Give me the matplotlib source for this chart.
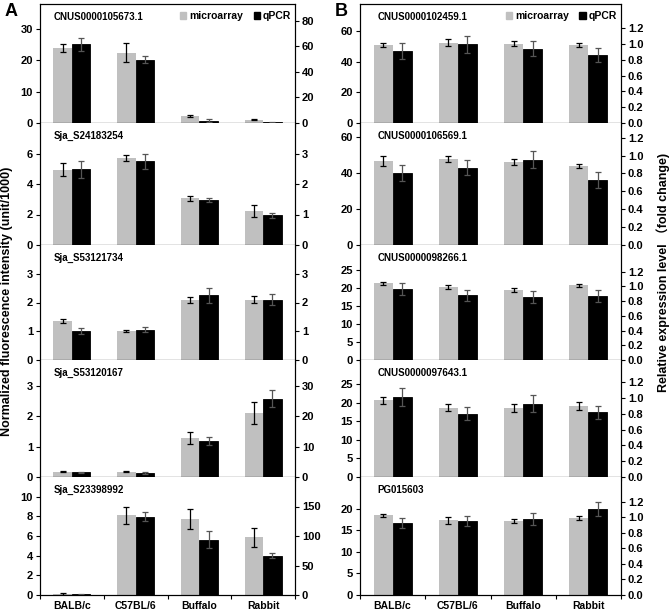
import matplotlib
matplotlib.use("Agg")
import matplotlib.pyplot as plt
import numpy as np
from matplotlib.patches import Patch

plt.rcParams['font.family'] = ['Liberation Sans', 'Noto Sans CJK SC']
plt.rcParams['font.weight'] = 'bold'

groups = ['BALB/c', 'C57BL/6', 'Buffalo', 'Rabbit']

# panel A
genes_a = ['CNUS0000105673.1', 'Sja_S24183254', 'Sja_S53121734', 'Sja_S53120167', 'Sja_S23398992']
micro_a = [[23.9, 22.5, 2.15, 1.07],
           [4.95, 5.7, 3.05, 2.25],
           [1.35, 1.02, 2.08, 2.1],
           [0.18, 0.17, 1.28, 2.1],
           [0.1, 8.1, 7.7, 5.85]]
micro_a_err = [[1.2, 3.0, 0.3, 0.2],
               [0.4, 0.2, 0.15, 0.4],
               [0.06, 0.04, 0.1, 0.12],
               [0.03, 0.02, 0.2, 0.37],
               [0.08, 0.85, 1.0, 1.0]]
qpcr_a = [[61.5, 49.5, 1.8, 0.4],
          [2.48, 2.75, 1.47, 0.97],
          [1.0, 1.05, 2.25, 2.1],
          [1.5, 1.2, 11.9, 25.7],
          [1.0, 132.5, 94.0, 66.7]]
qpcr_a_err = [[5.0, 2.5, 1.0, 0.3],
              [0.27, 0.25, 0.07, 0.07],
              [0.1, 0.09, 0.25, 0.2],
              [0.3, 0.3, 1.4, 2.8],
              [0.5, 7.5, 15.0, 4.5]]
left_lim_a = [38, 8, 4, 3.85, 12]
right_lim_a = [93, 4, 4, 38.5, 200]
left_ticks_a = [[0, 10, 20, 30], [0, 2, 4, 6], [0, 1, 2, 3], [0, 1, 2, 3], [0, 2, 4, 6, 8, 10]]
right_ticks_a = [[0, 20, 40, 60, 80], [0, 1, 2, 3], [0, 1, 2, 3], [0, 10, 20, 30], [0, 50, 100, 150]]

# panel B
genes_b = ['CNUS0000102459.1', 'CNUS0000106569.1', 'CNUS0000098266.1', 'CNUS0000097643.1', 'PG015603']
micro_b = [[51.2, 52.7, 52.1, 51.2],
           [46.5, 47.5, 45.8, 43.8],
           [21.4, 20.4, 19.5, 20.8],
           [20.7, 18.75, 18.75, 19.1],
           [18.4, 17.3, 17.1, 17.8]]
micro_b_err = [[1.4, 2.2, 1.6, 1.4],
               [2.8, 1.6, 1.6, 1.2],
               [0.5, 0.5, 0.5, 0.5],
               [1.0, 0.95, 1.1, 1.1],
               [0.4, 0.85, 0.54, 0.46]]
qpcr_b = [[0.91, 1.0, 0.944, 0.867],
          [0.807, 0.866, 0.954, 0.727],
          [0.966, 0.878, 0.855, 0.864],
          [1.012, 0.803, 0.929, 0.816],
          [0.929, 0.95, 0.976, 1.11]]
qpcr_b_err = [[0.1, 0.11, 0.1, 0.09],
              [0.088, 0.086, 0.097, 0.086],
              [0.083, 0.076, 0.08, 0.083],
              [0.12, 0.084, 0.107, 0.088],
              [0.069, 0.067, 0.08, 0.088]]
left_lim_b = [78, 67.6, 32.1, 31.6, 27.3]
right_lim_b = [1.51, 1.365, 1.56, 1.48, 1.52]
left_ticks_b = [[0, 20, 40, 60], [0, 20, 40, 60], [0, 5, 10, 15, 20, 25],
                [0, 5, 10, 15, 20, 25], [0, 5, 10, 15, 20]]
right_ticks_b = [[0, 0.2, 0.4, 0.6, 0.8, 1.0, 1.2]] * 5

W, H = 670, 613
rows_px = [4, 123, 245, 360, 477, 595]
GRAY = '#c0c0c0'
BW = 0.29


def draw_panel(x0, w, genes, micro, micro_err, qpcr, qpcr_err,
               llim, rlim, lticks, rticks, right_fmt, label_x):
    x = np.arange(len(groups))
    for i in range(5):
        top, bot = rows_px[i], rows_px[i + 1]
        ax = plt.gcf().add_axes([x0 / W, 1 - bot / H, w / W, (bot - top) / H])
        ax2 = ax.twinx()
        ax.bar(x - BW / 2, micro[i], BW, color=GRAY, yerr=micro_err[i],
               error_kw=dict(ecolor='black', elinewidth=0.9, capsize=2.2, capthick=0.9))
        ax2.bar(x + BW / 2, qpcr[i], BW, color='black', edgecolor='black', linewidth=0.6,
                yerr=qpcr_err[i],
                error_kw=dict(ecolor='#555555', elinewidth=0.9, capsize=2.2, capthick=0.9))
        ax.set_xlim(-0.5, 3.5)
        ax.set_ylim(0, llim[i])
        ax2.set_ylim(0, rlim[i])
        ax.set_yticks(lticks[i])
        ax2.set_yticks(rticks[i])
        ax2.set_yticklabels([right_fmt(v) for v in rticks[i]])
        ax.set_xticks([-0.5, 0.5, 1.5, 2.5, 3.5])
        ax.set_xticklabels([])
        for a in (ax, ax2):
            a.tick_params(direction='out', length=3, width=0.8, labelsize=8, pad=2)
            a.spines['top'].set_visible(i == 0)
            for s in a.spines.values():
                s.set_linewidth(0.8)
        ax.text(label_x, 1 - 13 / (bot - top), genes[i], transform=ax.transAxes,
                fontsize=7, fontweight='bold', va='center', ha='left')
        if i == 0:
            handles = [Patch(color=GRAY, label='microarray'), Patch(color='black', label='qPCR')]
            ax.legend(handles=handles, loc='center right', bbox_to_anchor=(0.985, 1 - 12 / (bot - top)),
                      ncol=2, frameon=False, fontsize=7.5, handlelength=0.6, handleheight=0.6,
                      handletextpad=0.3, columnspacing=1.0, borderaxespad=0, borderpad=0)
        if i == 4:
            ax.set_xticks(x, minor=True)
            ax.set_xticklabels(groups, minor=True, fontsize=7.5, fontweight='bold')
            ax.tick_params(axis='x', which='minor', length=0, pad=4)


fig = plt.figure(figsize=(W / 100, H / 100), dpi=100)

draw_panel(40, 255, genes_a, micro_a, micro_a_err, qpcr_a, qpcr_a_err,
           left_lim_a, right_lim_a, left_ticks_a, right_ticks_a, lambda v: f'{v:g}', 0.055)
draw_panel(360, 261, genes_b, micro_b, micro_b_err, qpcr_b, qpcr_b_err,
           left_lim_b, right_lim_b, left_ticks_b, right_ticks_b, lambda v: f'{v:.1f}', 0.068)

fig.text(5 / W, 1 - 11 / H, 'A', fontsize=13, fontweight='bold', va='center')
fig.text(335 / W, 1 - 11 / H, 'B', fontsize=13, fontweight='bold', va='center')
fig.text(7 / W, 1 - 301 / H, 'Normalized fluorescence intensity (unit/1000)', rotation=90,
         fontsize=9, fontweight='bold', ha='center', va='center')
fig.text(663 / W, 1 - 272 / H, 'Relative expression level （fold change)', rotation=90,
         fontsize=9, fontweight='bold', ha='center', va='center')

fig.savefig('out.png', dpi=100)
